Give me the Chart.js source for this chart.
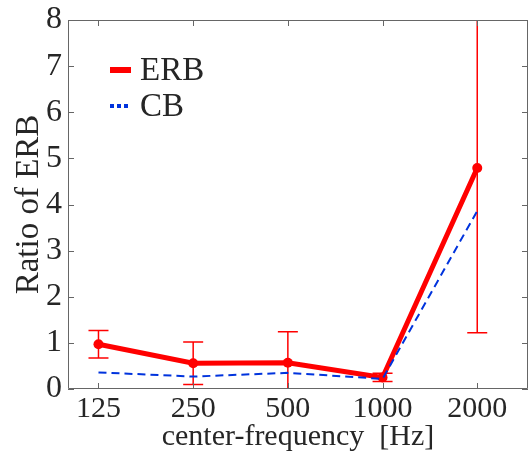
<!DOCTYPE html>
<html>
<head>
<meta charset="utf-8">
<script src="https://cdn.jsdelivr.net/npm/chart.js@4/dist/chart.umd.min.js"></script>
<style>
  html, body { margin: 0; padding: 0; background: #fff; }
  #wrap { width: 529px; height: 452px; }
</style>
</head>
<body>
<div id="wrap"><canvas id="chart" width="529" height="452"></canvas></div>
<script>
// Data
const freqs = [125, 250, 500, 1000, 2000];
const erbRatio = [0.97, 0.56, 0.57, 0.25, 4.79];
const erbError = [0.30, 0.46, 0.67, 0.09, 3.57];
const cbRatio = [0.36, 0.27, 0.35, 0.22, 3.86];
const yTicks = [0, 1, 2, 3, 4, 5, 6, 7, 8];

const serif = "'Liberation Serif', 'Times New Roman', serif";
const textColor = '#262626';
const axisColor = '#666666';

// Error bars for the ERB series
const errorBars = {
    id: 'errorBars',
    beforeDatasetsDraw(chart) {
        const { ctx, chartArea, scales } = chart;
        ctx.save();
        ctx.beginPath();
        ctx.rect(chartArea.left, chartArea.top, chartArea.right - chartArea.left, chartArea.bottom - chartArea.top);
        ctx.clip();
        ctx.strokeStyle = '#ff0000';
        ctx.lineWidth = 1.5;
        freqs.forEach((f, i) => {
            const x = scales.x.getPixelForValue(f);
            const yTop = scales.y.getPixelForValue(erbRatio[i] + erbError[i]);
            const yBot = scales.y.getPixelForValue(erbRatio[i] - erbError[i]);
            ctx.beginPath();
            ctx.moveTo(x, yTop);
            ctx.lineTo(x, yBot);
            ctx.moveTo(x - 10, yTop);
            ctx.lineTo(x + 10, yTop);
            ctx.moveTo(x - 10, yBot);
            ctx.lineTo(x + 10, yBot);
            ctx.stroke();
        });
        ctx.restore();
    }
};

// Box, inward ticks and legend
const frame = {
    id: 'frame',
    afterDraw(chart) {
        const { ctx, chartArea, scales } = chart;
        const { left, right, top, bottom } = chartArea;
        ctx.save();
        ctx.strokeStyle = axisColor;
        ctx.lineWidth = 1;
        ctx.beginPath();
        ctx.rect(left + 0.5, top + 0.5, right - left - 1, bottom - top - 1);
        ctx.stroke();
        ctx.beginPath();
        yTicks.forEach(v => {
            const y = Math.round(scales.y.getPixelForValue(v)) + 0.5;
            ctx.moveTo(left, y); ctx.lineTo(left + 6, y);
            ctx.moveTo(right, y); ctx.lineTo(right - 6, y);
        });
        freqs.forEach(f => {
            const x = Math.round(scales.x.getPixelForValue(f)) + 0.5;
            ctx.moveTo(x, bottom); ctx.lineTo(x, bottom - 6);
            ctx.moveTo(x, top); ctx.lineTo(x, top + 6);
        });
        ctx.stroke();

        // legend
        const items = chart.data.datasets.slice().reverse();
        ctx.font = '33px ' + serif;
        ctx.textBaseline = 'middle';
        ctx.fillStyle = textColor;
        items.forEach((ds, i) => {
            const y = 70 + i * 36;
            ctx.strokeStyle = ds.borderColor;
            ctx.lineWidth = ds.legendWidth;
            ctx.setLineDash(ds.legendDash);
            ctx.beginPath();
            ctx.moveTo(110, y);
            ctx.lineTo(131, y);
            ctx.stroke();
            ctx.setLineDash([]);
            ctx.fillText(ds.label, 140, y + 1);
        });
        ctx.restore();
    }
};

new Chart(document.getElementById('chart'), {
    type: 'line',
    data: {
        datasets: [
            {
                label: 'CB',
                data: freqs.map((f, i) => ({ x: f, y: cbRatio[i] })),
                borderColor: '#0033dd',
                borderWidth: 2,
                borderDash: [8, 5],
                pointRadius: 0,
                legendWidth: 4,
                legendDash: [4, 3]
            },
            {
                label: 'ERB',
                data: freqs.map((f, i) => ({ x: f, y: erbRatio[i] })),
                borderColor: '#ff0000',
                backgroundColor: '#ff0000',
                borderWidth: 5,
                pointRadius: 5,
                pointBackgroundColor: '#ff0000',
                pointBorderWidth: 0,
                legendWidth: 6,
                legendDash: []
            }
        ]
    },
    options: {
        responsive: false,
        animation: false,
        layout: { autoPadding: false, padding: { top: 20, right: 1, left: 0, bottom: 0 } },
        plugins: { legend: { display: false }, tooltip: { enabled: false } },
        scales: {
            x: {
                type: 'logarithmic',
                min: 100,
                max: 2900,
                afterBuildTicks(scale) { scale.ticks = freqs.map(v => ({ value: v })); },
                afterFit(scale) {
                    scale.height = 63;
                    scale.paddingLeft = 0;
                    scale.paddingRight = 0;
                },
                grid: { display: false, drawTicks: false },
                border: { display: false },
                ticks: {
                    callback: v => String(v),
                    font: { family: serif, size: 30 },
                    color: textColor,
                    padding: 2,
                    maxRotation: 0,
                    autoSkip: false
                },
                title: {
                    display: true,
                    text: 'center-frequency  [Hz]',
                    font: { family: serif, size: 30, lineHeight: 1 },
                    color: textColor,
                    padding: 0
                }
            },
            y: {
                min: 0,
                max: 8,
                afterBuildTicks(scale) { scale.ticks = yTicks.map(v => ({ value: v })); },
                afterFit(scale) {
                    scale.width = 68;
                    scale.paddingTop = 0;
                    scale.paddingBottom = 0;
                },
                grid: { display: false, drawTicks: false },
                border: { display: false },
                ticks: {
                    font: { family: serif, size: 32 },
                    color: textColor,
                    padding: 6
                },
                title: {
                    display: true,
                    text: 'Ratio of ERB',
                    font: { family: serif, size: 33, lineHeight: 1 },
                    color: textColor,
                    padding: { top: 13, bottom: 0 }
                }
            }
        }
    },
    plugins: [errorBars, frame]
});
</script>
</body>
</html>
